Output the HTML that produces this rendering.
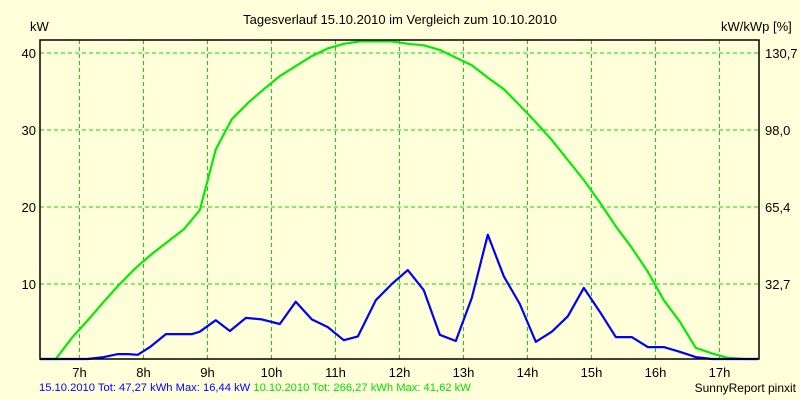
<!DOCTYPE html>
<html><head><meta charset="utf-8"><style>
html,body{margin:0;padding:0;background:#ffffd9;}
svg{display:block;font-family:"Liberation Sans",Arial,sans-serif;}
</style></head><body>
<svg id="chart" width="800" height="400" viewBox="0 0 800 400">
<rect x="0" y="0" width="800" height="400" fill="#ffffd9"/>
<text x="400" y="24" font-size="13" text-anchor="middle" fill="#000">Tagesverlauf 15.10.2010 im Vergleich zum 10.10.2010</text>
<text x="30" y="31" font-size="13" fill="#000">kW</text>
<text x="721" y="31" font-size="13" fill="#000">kW/kWp [%]</text>
<g id="grid"></g>
<g id="series"></g>
<rect x="40" y="40" width="719" height="319" fill="none" stroke="#000" stroke-width="1.5"/>
<g id="labels"></g>
<text x="39" y="391" font-size="11.2"><tspan fill="#0000ff">15.10.2010 Tot: 47,27 kWh Max: 16,44 kW </tspan><tspan fill="#00e000">10.10.2010 Tot: 266,27 kWh Max: 41,62 kW</tspan></text>
<text x="796" y="392" font-size="12" text-anchor="end" fill="#000">SunnyReport pinxit</text>
</svg>
<script>
const hourTicks = [7,8,9,10,11,12,13,14,15,16,17];
const kwTicks = [10,20,30,40];
const pctLabels = ["32,7","65,4","98,0","130,7"];
const blueTimes = [6.38,6.63,7.13,7.38,7.60,7.76,7.91,8.10,8.35,8.57,8.76,8.88,9.13,9.35,9.60,9.85,10.13,10.38,10.63,10.88,11.13,11.35,11.63,11.88,12.13,12.38,12.63,12.88,13.13,13.38,13.63,13.88,14.13,14.38,14.63,14.88,15.13,15.38,15.63,15.88,16.13,16.38,16.63,16.88,17.30,17.60];
const blueValues = [0,0,0,0.5,0.9,0.9,0.8,1.8,3.5,3.5,3.5,3.8,5.3,3.9,5.6,5.4,4.8,7.7,5.4,4.4,2.7,3.2,7.9,10,11.8,9.2,3.4,2.6,8.2,16.4,11,7.4,2.5,3.8,5.8,9.5,6.4,3.1,3.1,1.8,1.8,1.2,0.5,0,0,0];
const greenTimes = [6.38,6.63,6.88,7.13,7.38,7.63,7.88,8.13,8.38,8.63,8.88,9.13,9.38,9.63,9.88,10.13,10.38,10.63,10.88,11.13,11.38,11.63,11.88,12.13,12.38,12.63,12.88,13.13,13.38,13.63,13.88,14.13,14.38,14.63,14.88,15.13,15.38,15.63,15.88,16.13,16.38,16.63,16.88,17.13,17.38,17.60];
const greenValues = [0,0,3,5.3,7.7,10,12.1,13.9,15.5,17.1,19.6,27.5,31.4,33.5,35.3,37,38.3,39.6,40.6,41.2,41.5,41.5,41.5,41.2,41,40.4,39.4,38.4,36.8,35.3,33.2,31,28.7,26.1,23.5,20.6,17.5,14.7,11.6,7.9,5.1,1.7,1.0,0.4,0,0];

const svgNS = "http://www.w3.org/2000/svg";
const X0 = 40, X1 = 759, Y0 = 40, Y1 = 359;
function xScale(t){ return 79.5 + (t - 7) * 64; }
function yScale(v){ return Math.min(359, 361 - v * 7.7); }

const grid = document.getElementById('grid');
const labels = document.getElementById('labels');
const series = document.getElementById('series');

hourTicks.forEach(h => {
  const l = document.createElementNS(svgNS, 'line');
  const x = xScale(h);
  l.setAttribute('x1', x); l.setAttribute('x2', x);
  l.setAttribute('y1', Y0); l.setAttribute('y2', Y1);
  l.setAttribute('stroke', '#00e000'); l.setAttribute('stroke-dasharray', '4,3');
  
  
  grid.appendChild(l);
  const t = document.createElementNS(svgNS, 'text');
  t.setAttribute('x', x); t.setAttribute('y', 377);
  t.setAttribute('font-size', '13'); t.setAttribute('text-anchor', 'middle');
  t.textContent = h + 'h';
  
  
  labels.appendChild(t);
});

kwTicks.forEach((v, i) => {
  const y = yScale(v);
  const l = document.createElementNS(svgNS, 'line');
  l.setAttribute('x1', X0); l.setAttribute('x2', X1);
  l.setAttribute('y1', y); l.setAttribute('y2', y);
  l.setAttribute('stroke', '#00e000'); l.setAttribute('stroke-dasharray', '4,3');
  
  
  grid.appendChild(l);
  const t = document.createElementNS(svgNS, 'text');
  t.setAttribute('x', 36); t.setAttribute('y', y + 5);
  t.setAttribute('font-size', '13'); t.setAttribute('text-anchor', 'end');
  t.textContent = v;
  
  
  labels.appendChild(t);
  const r = document.createElementNS(svgNS, 'text');
  r.setAttribute('x', 765); r.setAttribute('y', y + 5);
  r.setAttribute('font-size', '13');
  r.textContent = pctLabels[i];
  
  
  labels.appendChild(r);
});

function drawLine(times, vals, color, name){
  const p = document.createElementNS(svgNS, 'polyline');
  p.setAttribute('points', times.map((t, i) => xScale(t).toFixed(1) + ',' + yScale(vals[i]).toFixed(1)).join(' '));
  p.setAttribute('fill', 'none'); p.setAttribute('stroke', color);
  p.setAttribute('stroke-width', '2.2'); p.setAttribute('stroke-linejoin', 'round');
  
  
  series.appendChild(p);
}
drawLine(greenTimes, greenValues, '#00ee00', 'series-10-10-2010');
drawLine(blueTimes, blueValues, '#0000ff', 'series-15-10-2010');
</script>
</body></html>
